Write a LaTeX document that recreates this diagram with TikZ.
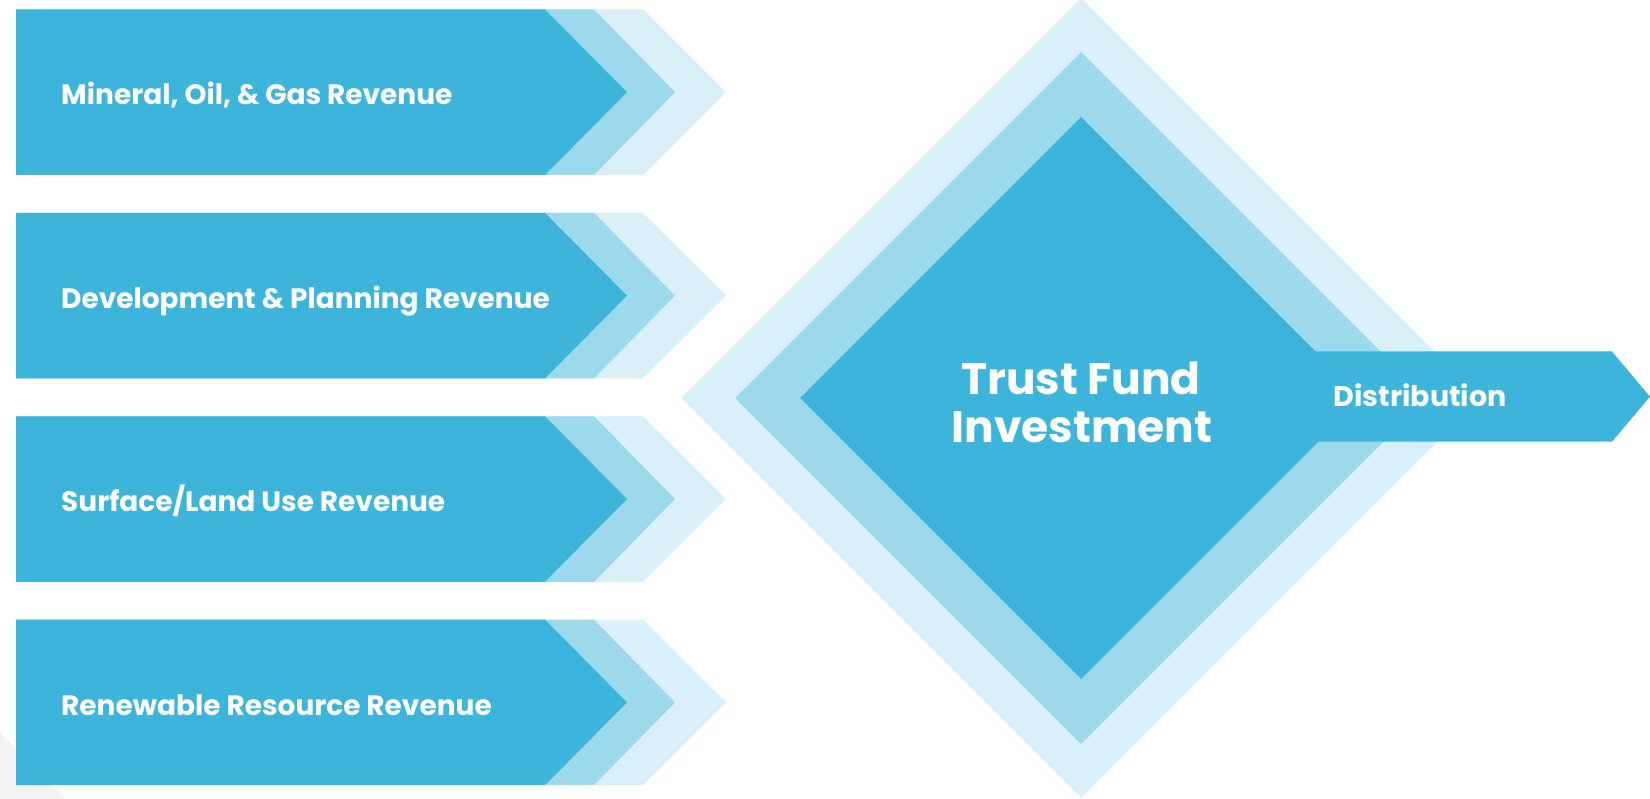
\documentclass[tikz,border=0pt]{standalone}
\usepackage{fontspec}
\setmainfont{Poppins}[BoldFont={Poppins Bold}]
\definecolor{cdark}{HTML}{3DB5DA}
\definecolor{cmid}{HTML}{9DD9EC}
\definecolor{clight}{HTML}{D9F0F8}
\definecolor{cgray}{HTML}{F1F2F4}
\tikzset{
  lbl/.style={text=white,font=\bfseries\fontsize{28}{32}\selectfont,anchor=base west,inner sep=0pt},
  big/.style={text=white,font=\bfseries\fontsize{44}{48}\selectfont,anchor=base,inner sep=0pt},
  dist/.style={text=white,font=\bfseries\fontsize{28.5}{32}\selectfont,anchor=base,inner sep=0pt}
}
\begin{document}
\begin{tikzpicture}[x=1pt,y=-1pt]
\useasboundingbox (0,0) rectangle (1650,799);
% gray corner
\fill[cgray] (0,733) -- (66,799) -- (0,799) -- cycle;
% revenue chevrons
\foreach \i/\txt/\nm in {0/{Mineral, Oil, \& Gas Revenue}/r1,1/{Development \& Planning Revenue}/r2,2/{Surface/Land Use Revenue}/r3,3/{Renewable Resource Revenue}/r4}{
  \pgfmathsetmacro{\t}{9.5+203.4*\i}
  \pgfmathsetmacro{\b}{\t+165.5}
  \pgfmathsetmacro{\m}{\t+82.75}
  \pgfmathsetmacro{\bl}{\m+12.6}
  \fill[clight] (16,\t) -- (643,\t) -- (726,\m) -- (643,\b) -- (16,\b) -- cycle;
  \fill[cmid] (16,\t) -- (594,\t) -- (675,\m) -- (594,\b) -- (16,\b) -- cycle;
  \fill[cdark] (16,\t) -- (545,\t) -- (627,\m) -- (545,\b) -- (16,\b) -- cycle;
  \node[lbl] (\nm) at (61,\bl) {\txt};
}
% diamonds
\fill[clight] (1081,-2) -- (1481,398) -- (1081,798) -- (681,398) -- cycle;
\fill[cmid] (1081,52) -- (1427,398) -- (1081,744) -- (735,398) -- cycle;
\fill[cdark] (1081,117) -- (1362,398) -- (1081,679) -- (800,398) -- cycle;
% distribution arrow
\fill[cdark] (1315,351.5) -- (1612,351.5) -- (1650,396.7) -- (1612,441.7) -- (1315,441.7) -- cycle;
\node[big] (tf1) at (1081,395) {Trust Fund};
\node[big] (tf2) at (1082,443) {Investment};
\node[dist] (dis) at (1420,407) {Distribution};
\end{tikzpicture}
\end{document}
